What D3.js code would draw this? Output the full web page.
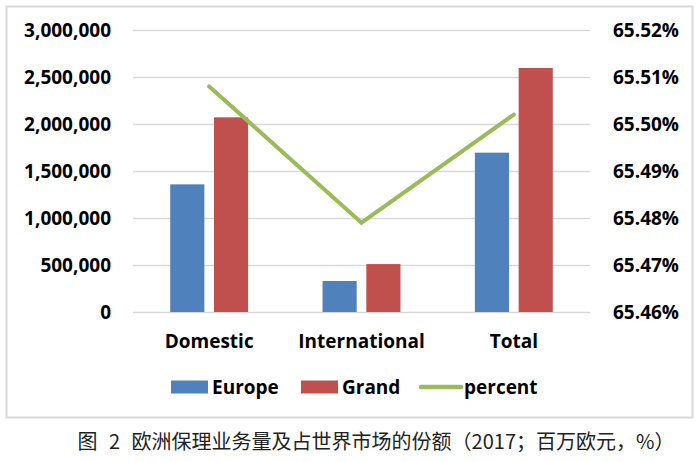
<!DOCTYPE html>
<html>
<head>
<meta charset="utf-8">
<script src="https://cdn.jsdelivr.net/npm/d3@7"></script>
<style>
  body { margin: 0; background: #fff; }
  .tick text, .lbl { font-family: 'Open Sans', 'Liberation Sans', sans-serif; font-weight: bold; fill: #000; font-variant-ligatures: none; }
</style>
</head>
<body>
<div id="chart"></div>
<script>
// data
const categories = ['Domestic', 'International', 'Total']
const series = ['Europe', 'Grand']
const europe = [1358000, 330000, 1695000]
const grand = [2071000, 510000, 2596000]
const percent = [65.508, 65.479, 65.502]
const leftTicks = [0, 500000, 1000000, 1500000, 2000000, 2500000, 3000000]
const rightTicks = [65.46, 65.47, 65.48, 65.49, 65.50, 65.51, 65.52]
const title = '图 2 欧洲保理业务量及占世界市场的份额（2017；百万欧元，%）'

const colors = {Europe: '#4F81BD', Grand: '#C0504D', percent: '#9BBB59'}

const width = 700
const height = 462
const plot = {left: 133, right: 590, top: 30, bottom: 312}

const svg = d3.select('#chart').append('svg')
  .attr('width', width)
  .attr('height', height)

// outer frame
svg.append('rect')
  .attr('x', 6.5).attr('y', 6.5)
  .attr('width', 686).attr('height', 411)
  .attr('fill', '#fff')
  .attr('stroke', '#d9d9d9')
  .attr('stroke-width', 2)

const x0 = d3.scaleBand().domain(categories).range([plot.left, plot.right])
const x1 = d3.scaleBand().domain(series).range([0, x0.bandwidth()])
  .paddingInner(0.22).paddingOuter(0.85)
const yL = d3.scaleLinear().domain([0, 3000000]).range([plot.bottom, plot.top])
const yR = d3.scaleLinear().domain([65.46, 65.52]).range([plot.bottom, plot.top])

// gridlines
svg.append('g')
  .attr('transform', `translate(${plot.left},0)`)
  .call(d3.axisLeft(yL).tickValues(leftTicks).tickSize(-(plot.right - plot.left)).tickFormat(''))
  .call(g => g.select('.domain').remove())
  .call(g => g.selectAll('line').attr('stroke', '#d9d9d9').attr('stroke-width', 1.5))

// left axis labels
svg.append('g')
  .attr('transform', 'translate(111,0)')
  .call(d3.axisLeft(yL).tickValues(leftTicks).tickSize(0).tickPadding(0).tickFormat(d3.format(',')))
  .call(g => g.select('.domain').remove())
  .call(g => g.selectAll('text').style('font-size', '19px'))

// right axis labels
svg.append('g')
  .attr('transform', 'translate(613,0)')
  .call(d3.axisRight(yR).tickValues(rightTicks).tickSize(0).tickPadding(0).tickFormat(d3.format('.2f')))
  .call(g => g.select('.domain').remove())
  .call(g => g.selectAll('text').style('font-size', '19px').text(d => d3.format('.2f')(d) + '%'))

// category labels
svg.append('g')
  .attr('transform', `translate(0,${plot.bottom})`)
  .call(d3.axisBottom(x0).tickSize(0).tickPadding(23))
  .call(g => g.select('.domain').remove())
  .call(g => g.selectAll('text').style('font-size', '19px'))

// bars
const rows = categories.map((c, i) => ({cat: c, Europe: europe[i], Grand: grand[i]}))
svg.append('g').selectAll('g').data(rows).enter().append('g')
  .attr('transform', d => `translate(${x0(d.cat)},0)`)
  .selectAll('rect').data(d => series.map(s => ({key: s, value: d[s]}))).enter().append('rect')
  .attr('x', d => x1(d.key))
  .attr('width', x1.bandwidth())
  .attr('y', d => yL(d.value))
  .attr('height', d => yL(0) - yL(d.value))
  .attr('fill', d => colors[d.key])

// percent line
const line = d3.line()
  .x((d, i) => x0(categories[i]) + x0.bandwidth() / 2)
  .y(d => yR(d))
svg.append('path')
  .datum(percent)
  .attr('d', line)
  .attr('fill', 'none')
  .attr('stroke', colors.percent)
  .attr('stroke-width', 4)
  .attr('stroke-linecap', 'round')

// legend
const legendY = 387
const legend = [
  {key: 'Europe', type: 'rect', x: 171, tx: 212},
  {key: 'Grand', type: 'rect', x: 301, tx: 342},
  {key: 'percent', type: 'line', x: 421, tx: 464}
]
const lg = svg.append('g')
legend.forEach(l => {
  if (l.type === 'rect') {
    lg.append('rect').attr('x', l.x).attr('y', legendY - 6.5).attr('width', 37).attr('height', 13)
      .attr('fill', colors[l.key])
  } else {
    lg.append('line').attr('x1', l.x).attr('x2', l.x + 40).attr('y1', legendY).attr('y2', legendY)
      .attr('stroke', colors[l.key]).attr('stroke-width', 4.5).attr('stroke-linecap', 'round')
  }
  lg.append('text').attr('class', 'lbl').attr('x', l.tx).attr('y', legendY)
    .attr('dy', '0.35em').style('font-size', '19px').text(l.key)
})

// caption
svg.append('text')
  .attr('x', 376).attr('y', 442).attr('dy', '0.35em')
  .attr('text-anchor', 'middle')
  .style('font-family', "'Noto Sans CJK SC', sans-serif")
  .style('font-size', '20px')
  .style('word-spacing', '7px')
  .style('white-space', 'pre')
  .attr('fill', '#222')
  .text(title)
</script>
</body>
</html>
